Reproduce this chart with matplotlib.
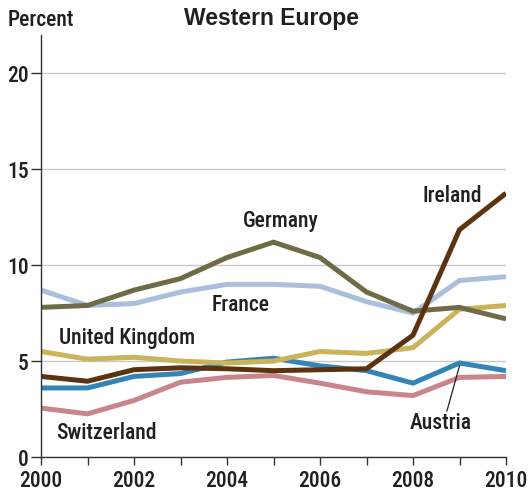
import matplotlib
matplotlib.use("Agg")
import matplotlib.pyplot as plt
from matplotlib import font_manager as fm

names = {f.name for f in fm.fontManager.ttflist}
cond = None
for cand in ["Liberation Sans Narrow", "DejaVu Sans Condensed", "Roboto Condensed", "Open Sans Condensed"]:
    if cand in names:
        cond = cand
        break
stretch = "normal"
if cond is None:
    cond = "DejaVu Sans"
    stretch = "condensed"

years = list(range(2000, 2011))
germany = [7.8, 7.9, 8.7, 9.3, 10.4, 11.2, 10.4, 8.6, 7.6, 7.8, 7.2]
france = [8.7, 7.9, 8.0, 8.6, 9.0, 9.0, 8.9, 8.1, 7.5, 9.2, 9.4]
uk = [5.5, 5.1, 5.2, 5.0, 4.9, 5.0, 5.5, 5.4, 5.7, 7.7, 7.9]
ireland = [4.2, 3.95, 4.55, 4.65, 4.6, 4.5, 4.55, 4.6, 6.35, 11.85, 13.75]
austria = [3.6, 3.6, 4.2, 4.35, 4.95, 5.15, 4.75, 4.5, 3.85, 4.9, 4.5]
switzerland = [2.55, 2.25, 2.95, 3.9, 4.15, 4.25, 3.85, 3.4, 3.2, 4.15, 4.2]

series = [
    ("France", france, "#a9bfdc"),
    ("Switzerland", switzerland, "#c8858b"),
    ("Austria", austria, "#3584b8"),
    ("United Kingdom", uk, "#c9b45c"),
    ("Germany", germany, "#6e6b46"),
    ("Ireland", ireland, "#5b3311"),
]

fig = plt.figure(figsize=(5.28, 4.98), dpi=100)
ax = fig.add_axes([41/528, (498-457)/498, (506-41)/528, (457-35)/498])

for name, vals, col in series:
    ax.plot(years, vals, color=col, lw=3.6, solid_capstyle="butt", solid_joinstyle="miter", zorder=3)

ax.set_xlim(2000, 2010)
ax.set_ylim(0, 22)
ax.set_yticks([0, 5, 10, 15, 20])
ax.set_xticks(years)
ax.set_xticklabels([str(y) if y % 2 == 0 else "" for y in years])
ax.yaxis.grid(True, color="#c8c8c8", lw=1.0, zorder=1)
ax.set_axisbelow(True)
for s in ["top", "right"]:
    ax.spines[s].set_visible(False)
ax.spines["left"].set_color("#333333")
ax.spines["bottom"].set_color("#333333")
ax.spines["left"].set_linewidth(1.0)
ax.spines["bottom"].set_linewidth(1.0)
ax.spines["left"].set_zorder(5)
ax.tick_params(axis="y", length=7, width=1.0, color="#333333", pad=2)
ax.tick_params(axis="x", length=6, width=1.0, color="#333333", pad=3)

tf = dict(family=cond, stretch=stretch, size=15.5, weight="medium", color="#231f20")
for lab in ax.get_yticklabels() + ax.get_xticklabels():
    lab.set_fontfamily(cond)
    lab.set_fontstretch(stretch)
    lab.set_fontsize(15.5)
    lab.set_fontweight("medium")
    lab.set_color("#231f20")

labels = [
    ("Germany", 2005.15, 12.3),
    ("France", 2004.3, 7.95),
    ("United Kingdom", 2001.85, 6.2),
    ("Ireland", 2008.85, 13.6),
    ("Switzerland", 2001.4, 1.25),
    ("Austria", 2008.6, 1.75),
]
for t, x, y in labels:
    ax.text(x, y, t, ha="center", va="center", **tf, zorder=6)

ax.plot([2008.73, 2009.0], [2.4, 4.75], color="#231f20", lw=0.9, zorder=6)

fig.text(8/528, 1 - 20/498, "Percent", ha="left", va="center", **tf)
fig.text(272/528, 1 - 19/498, "Western Europe", ha="center", va="center",
         family="Liberation Sans", weight="bold", size=16.5, color="#231f20")

fig.savefig("out.png", dpi=100)
